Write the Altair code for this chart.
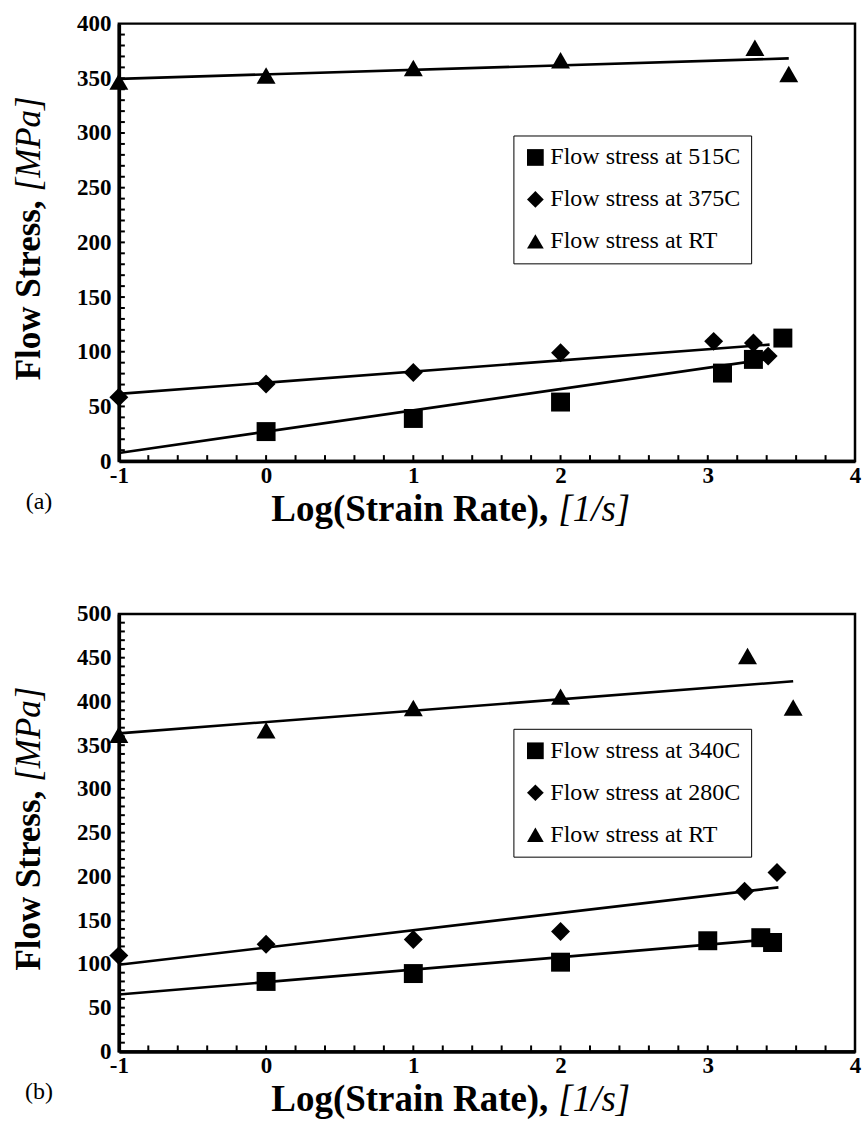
import altair as alt
import pandas as pd
import numpy as np

FONT = "Liberation Serif"

# ---------------- Panel (a) ----------------
a_labels = ["Flow stress at 515C", "Flow stress at 375C", "Flow stress at RT"]
a_515_x = [0, 1, 2, 3.1, 3.31, 3.51]
a_515_y = [27, 39, 54, 80.5, 93, 112.5]
a_375_x = [-1, 0, 1, 2, 3.04, 3.31, 3.41]
a_375_y = [58.5, 70.5, 81, 99, 109.5, 108, 96]
a_rt_x = [-1, 0, 1, 2, 3.32, 3.55]
a_rt_y = [347, 352.5, 359.5, 366.5, 378, 354]
# trend lines (start / end) per series
a_fit_x0 = [-1, -1, -1]
a_fit_x1 = [3.42, 3.42, 3.55]
a_fit_y0 = [7.5, 61.5, 349.5]
a_fit_y1 = [93.5, 106.5, 368.2]

# ---------------- Panel (b) ----------------
b_labels = ["Flow stress at 340C", "Flow stress at 280C", "Flow stress at RT"]
b_340_x = [0, 1, 2, 3, 3.36, 3.44]
b_340_y = [80, 89, 102, 126.5, 130, 124.5]
b_280_x = [-1, 0, 1, 2, 3.25, 3.47]
b_280_y = [109.5, 122.5, 128, 137, 183, 204.5]
b_rt_x = [-1, 0, 1, 2, 3.27, 3.58]
b_rt_y = [362, 367, 392.5, 405.5, 452, 393]
b_fit_x0 = [-1, -1, -1]
b_fit_x1 = [3.42, 3.48, 3.58]
b_fit_y0 = [65, 99, 363.5]
b_fit_y1 = [128, 187.5, 423]

x_tick_labels = [-1, 0, 1, 2, 3, 4]

W, H = 737, 438


def panel(labels, xs_list, ys_list, fx0, fx1, fy0, fy1, ymax, tag, legend_y):
    rows = []
    for lab, xs, ys in zip(labels, xs_list, ys_list):
        for x, y in zip(xs, ys):
            rows.append({"x": x, "y": y, "s": lab})
    pts = pd.DataFrame(rows)
    fit_rows = []
    for lab, a, b, c, d in zip(labels, fx0, fx1, fy0, fy1):
        fit_rows.append({"x": a, "y": c, "s": lab})
        fit_rows.append({"x": b, "y": d, "s": lab})
    fits = pd.DataFrame(fit_rows)

    xsc = alt.Scale(domain=[-1, 4], nice=False, zero=False)
    ysc = alt.Scale(domain=[0, ymax], nice=False, zero=False)

    xaxis = alt.Axis(values=x_tick_labels, ticks=False, grid=False, title=None,
                     labelFont=FONT, labelFontSize=23, labelFontWeight="bold",
                     labelColor="black", labelPadding=3, labelFlush=False,
                     labelOverlap=False, domainColor="black", domainWidth=3.5,
                     labelExpr="datum.value < 0 ? '-' + abs(datum.value) : datum.label")
    yaxis = alt.Axis(values=list(range(0, ymax + 1, 50)), ticks=False, grid=False,
                     title=None, labelFont=FONT, labelFontSize=23,
                     labelFontWeight="bold", labelColor="black", labelPadding=8,
                     labelFlush=False, labelOverlap=False, domainColor="black",
                     domainWidth=3.5)

    lines = alt.Chart(fits).mark_line(color="black", strokeWidth=2.6).encode(
        x=alt.X("x:Q", scale=xsc, axis=xaxis),
        y=alt.Y("y:Q", scale=ysc, axis=yaxis),
        detail="s:N",
    )

    points = alt.Chart(pts).mark_point(filled=True, color="black", size=360,
                                       opacity=1).encode(
        x=alt.X("x:Q", scale=xsc, axis=xaxis),
        y=alt.Y("y:Q", scale=ysc, axis=yaxis),
        shape=alt.Shape("s:N",
                        scale=alt.Scale(domain=labels,
                                        range=["square", "diamond", "triangle-up"]),
                        legend=alt.Legend(orient="none", legendX=395,
                                          legendY=legend_y, title=None,
                                          labelFont=FONT, labelFontSize=24,
                                          labelColor="black", labelLimit=500,
                                          padding=10, rowPadding=18,
                                          strokeColor="black", fillColor="white",
                                          symbolSize=280, symbolFillColor="black",
                                          symbolStrokeColor="black",
                                          symbolStrokeWidth=0, labelOffset=3)),
    )

    xt = pd.DataFrame({"t": np.round(np.arange(-0.8, 3.81, 0.2), 2)})
    yt = pd.DataFrame({"t": np.arange(10, ymax, 10)})
    xticks = alt.Chart(xt).mark_rule(color="black", strokeWidth=2).encode(
        x=alt.X("t:Q", scale=xsc, axis=xaxis),
        y=alt.value(H), y2=alt.value(H - 6))
    yticks = alt.Chart(yt).mark_rule(color="black", strokeWidth=2).encode(
        y=alt.Y("t:Q", scale=ysc, axis=yaxis),
        x=alt.value(0), x2=alt.value(6))

    def txt(s, **kw):
        return alt.Chart(pd.DataFrame({"t": [s]})).mark_text(font=FONT, color="black", **kw)

    ty = 487
    xt1 = txt("Log(Strain Rate),", fontSize=37, fontWeight="bold", align="right",
              baseline="middle").encode(text="t:N", x=alt.value(430), y=alt.value(ty))
    xt2 = txt("[1/s]", fontSize=37, fontStyle="italic", align="left",
              baseline="middle").encode(text="t:N", x=alt.value(440), y=alt.value(ty))
    yt1 = txt("Flow Stress,", fontSize=35, fontWeight="bold", align="right",
              baseline="middle", angle=270).encode(text="t:N", x=alt.value(-90),
                                                     y=alt.value(177))
    yt2 = txt("[MPa]", fontSize=35, fontStyle="italic", align="left",
              baseline="middle", angle=270).encode(text="t:N", x=alt.value(-90),
                                                     y=alt.value(168))
    tg = txt(tag, fontSize=24, align="center", baseline="middle").encode(
        text="t:N", x=alt.value(-80), y=alt.value(ty - 8))

    return alt.layer(lines, points, xticks, yticks, xt1, xt2, yt1, yt2, tg).properties(
        width=W, height=H,
        view=alt.ViewBackground(stroke="black", strokeWidth=2.5))


top = panel(a_labels, [a_515_x, a_375_x, a_rt_x], [a_515_y, a_375_y, a_rt_y],
            a_fit_x0, a_fit_x1, a_fit_y0, a_fit_y1, 400, "(a)", 112)
bot = panel(b_labels, [b_340_x, b_280_x, b_rt_x], [b_340_y, b_280_y, b_rt_y],
            b_fit_x0, b_fit_x1, b_fit_y0, b_fit_y1, 500, "(b)", 115)

chart = alt.vconcat(top, bot, spacing=153, bounds="flush").resolve_scale(
    x="independent", y="independent", shape="independent"
).resolve_legend(shape="independent").properties(
    padding={"left": 10, "top": 10, "right": 0, "bottom": 5}
).configure_view(stroke="black", strokeWidth=2.5).configure_legend(
    strokeWidth=1.5
).configure(background="white")

chart.save("out.html", embed_options={"renderer": "svg", "actions": False})
